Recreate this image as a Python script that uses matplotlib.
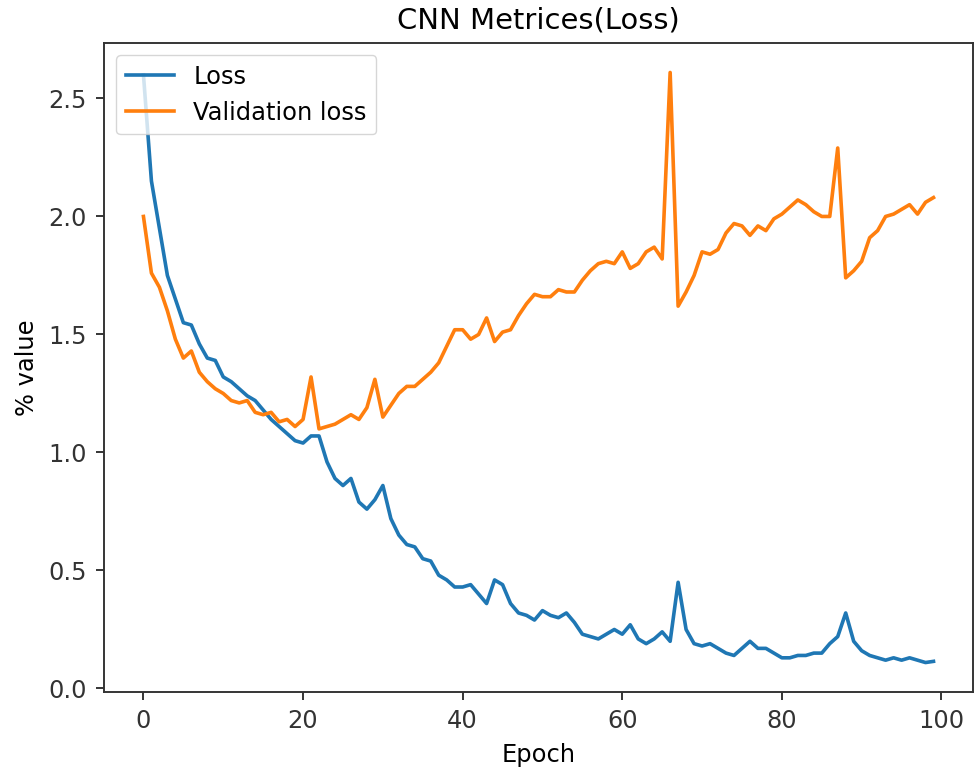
import matplotlib
matplotlib.use("Agg")
import matplotlib.pyplot as plt

# per-epoch values
epochs = list(range(100))
loss = [2.60, 2.15, 1.95, 1.75, 1.65, 1.55, 1.54, 1.46, 1.40, 1.39,
        1.32, 1.30, 1.27, 1.24, 1.22, 1.18, 1.14, 1.11, 1.08, 1.05,
        1.04, 1.07, 1.07, 0.96, 0.89, 0.86, 0.89, 0.79, 0.76, 0.80,
        0.86, 0.72, 0.65, 0.61, 0.60, 0.55, 0.54, 0.48, 0.46, 0.43,
        0.43, 0.44, 0.40, 0.36, 0.46, 0.44, 0.36, 0.32, 0.31, 0.29,
        0.33, 0.31, 0.30, 0.32, 0.28, 0.23, 0.22, 0.21, 0.23, 0.25,
        0.23, 0.27, 0.21, 0.19, 0.21, 0.24, 0.20, 0.45, 0.25, 0.19,
        0.18, 0.19, 0.17, 0.15, 0.14, 0.17, 0.20, 0.17, 0.17, 0.15,
        0.13, 0.13, 0.14, 0.14, 0.15, 0.15, 0.19, 0.22, 0.32, 0.20,
        0.16, 0.14, 0.13, 0.12, 0.13, 0.12, 0.13, 0.12, 0.11, 0.115]
val_loss = [2.00, 1.76, 1.70, 1.60, 1.48, 1.40, 1.43, 1.34, 1.30, 1.27,
            1.25, 1.22, 1.21, 1.22, 1.17, 1.16, 1.17, 1.13, 1.14, 1.11,
            1.14, 1.32, 1.10, 1.11, 1.12, 1.14, 1.16, 1.14, 1.19, 1.31,
            1.15, 1.20, 1.25, 1.28, 1.28, 1.31, 1.34, 1.38, 1.45, 1.52,
            1.52, 1.48, 1.50, 1.57, 1.47, 1.51, 1.52, 1.58, 1.63, 1.67,
            1.66, 1.66, 1.69, 1.68, 1.68, 1.73, 1.77, 1.80, 1.81, 1.80,
            1.85, 1.78, 1.80, 1.85, 1.87, 1.82, 2.61, 1.62, 1.68, 1.75,
            1.85, 1.84, 1.86, 1.93, 1.97, 1.96, 1.92, 1.96, 1.94, 1.99,
            2.01, 2.04, 2.07, 2.05, 2.02, 2.00, 2.00, 2.29, 1.74, 1.77,
            1.81, 1.91, 1.94, 2.00, 2.01, 2.03, 2.05, 2.01, 2.06, 2.08]

# the reference is a scaled-up default matplotlib figure
s = 1.74
plt.rcParams.update({
    'font.size': 10 * s,
    'lines.linewidth': 1.5 * s,
    'axes.linewidth': 0.8 * s,
    'xtick.major.size': 3.5 * s, 'ytick.major.size': 3.5 * s,
    'xtick.major.width': 0.8 * s, 'ytick.major.width': 0.8 * s,
    'xtick.major.pad': 3.5 * s, 'ytick.major.pad': 3.5 * s,
    'axes.titlepad': 6 * s,
    'axes.labelpad': 4 * s,
    'axes.edgecolor': '#333333',
    'xtick.color': '#333333', 'ytick.color': '#333333',
})

fig, ax = plt.subplots(figsize=(9.77, 7.76), dpi=100)
fig.subplots_adjust(left=0.1064, right=0.9959, top=0.9446, bottom=0.1082)

ax.plot(epochs, loss, label='Loss')
ax.plot(epochs, val_loss, label='Validation loss')

ax.set_title('CNN Metrices(Loss)')
ax.set_xlabel('Epoch')
ax.set_ylabel('% value')
ax.legend(loc='upper left')

plt.savefig('out.png', dpi=100)
plt.close()
